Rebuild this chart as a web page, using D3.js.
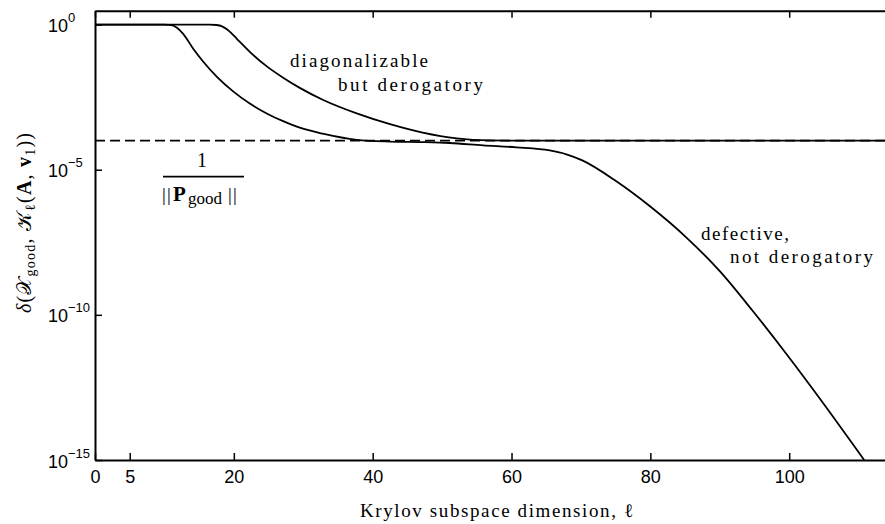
<!DOCTYPE html>
<html><head><meta charset="utf-8">
<script src="https://cdn.jsdelivr.net/npm/d3@7"></script>
<style>
body{margin:0;background:#fff}
text{fill:#000}
</style>
</head><body><svg id="c" width="885" height="524"></svg>
<script>
// ---- data ----
const xTicks = [0, 5, 20, 40, 60, 80, 100];
const yTicks = [1, 1e-5, 1e-10, 1e-15];
const yTickExp = ["0", "\u22125", "\u221210", "\u221215"];
const refLevel = 1e-4;

// "diagonalizable but derogatory"
const diagL = [0, 16.5, 17.5, 18.3, 19.0, 19.7, 20.4, 22.3, 24.8, 27.1, 29.5, 32.8, 37.7, 42.5, 47.2, 52.1, 56.9, 62, 114];
const diagV = [1, 1, 0.966, 0.87, 0.69, 0.49, 0.33, 0.115, 0.0355, 0.0148, 6.6e-3, 2.57e-3, 8.7e-4, 3.7e-4, 1.9e-4, 1.2e-4, 1.02e-4, 1.0e-4, 1.0e-4];

// "defective, not derogatory"
const defL = [0, 10.0, 11.0, 11.8, 12.7, 14.2, 15.6, 17.6, 19.9, 22.3, 24.8, 27.1, 29.5, 32.8, 37.7, 42.5, 47.2, 51.1, 55.9, 60.7, 65.5, 67.9, 70.2, 75.1, 79.9, 85.2, 90.0, 94.7, 99.6, 104.4, 109.1, 110.8];
const defV = [1, 1, 0.95, 0.78, 0.48, 0.141, 0.0525, 0.0155, 5.0e-3, 1.9e-3, 8.5e-4, 4.7e-4, 2.8e-4, 1.74e-4, 1.07e-4, 9.3e-5, 8.9e-5, 8.3e-5, 6.9e-5, 5.9e-5, 4.6e-5, 3.4e-5, 2.1e-5, 4.0e-6, 5.6e-7, 4.6e-8, 3.2e-9, 1.41e-10, 4.5e-12, 1.32e-13, 3.7e-15, 1e-15];

// ---- chart ----
const svg = d3.select("#c");
const x = d3.scaleLinear().domain([0, 113.8]).range([95, 885]);
const y = d3.scaleLog().domain([1e-15, 3]).range([460, 10.7]);
const SANS = "'Liberation Sans', Arial, Helvetica, sans-serif";
const SERIF = "'Liberation Serif', 'Times New Roman', serif";

// axes
const gB = svg.append("g").attr("transform", `translate(0,${y.range()[0]})`)
  .call(d3.axisBottom(x).tickValues(xTicks).tickSizeInner(-7).tickSizeOuter(0).tickPadding(10));
const gT = svg.append("g").attr("transform", `translate(0,${y.range()[1]})`)
  .call(d3.axisTop(x).tickValues(xTicks).tickSizeInner(-7).tickSizeOuter(0).tickFormat(""));
const gL = svg.append("g").attr("transform", `translate(${x.range()[0]},0)`)
  .call(d3.axisLeft(y).tickValues(yTicks).tickSizeInner(-7).tickSizeOuter(0).tickFormat(""));
[gB, gT, gL].forEach(g => {
  g.select(".domain").attr("stroke", "#000").attr("stroke-width", 2);
  g.selectAll(".tick line").attr("stroke", "#000").attr("stroke-width", 1.5);
});
gB.selectAll(".tick text").attr("font-family", SANS).attr("font-size", 18).attr("fill", "#000");

// y tick labels (10^n)
yTicks.forEach((t, i) => {
  const tx = svg.append("text").attr("x", 48).attr("y", y(t) + 7.5)
    .attr("font-family", SANS).attr("font-size", 18);
  tx.append("tspan").text("10");
  tx.append("tspan").attr("font-size", 13).attr("dy", -10).text(yTickExp[i]);
});

// reference dashed line
svg.append("line")
  .attr("x1", x(0)).attr("x2", x.range()[1])
  .attr("y1", y(refLevel)).attr("y2", y(refLevel))
  .attr("stroke", "#000").attr("stroke-width", 1.8).attr("stroke-dasharray", "10,5");

const line = d3.line().x(d => x(d[0])).y(d => y(d[1])).curve(d3.curveMonotoneX);
svg.append("path").datum(diagL.map((l, i) => [l, diagV[i]]))
  .attr("d", line).attr("fill", "none").attr("stroke", "#000").attr("stroke-width", 1.8);
svg.append("path").datum(defL.map((l, i) => [l, defV[i]]))
  .attr("d", line).attr("fill", "none").attr("stroke", "#000").attr("stroke-width", 1.8);

// annotations
function ann(txt, x0, yb, w) {
  svg.append("text").attr("x", x0).attr("y", yb).attr("font-family", SERIF).attr("font-size", 19)
    .attr("fill", "#000").attr("textLength", w).attr("lengthAdjust", "spacing").text(txt);
}
ann("diagonalizable", 290, 67, 138);
ann("but derogatory", 338, 91, 145);
ann("defective,", 701, 240, 88);
ann("not derogatory", 730, 263, 143);

// fraction 1/||P_good||
svg.append("text").attr("x", 202).attr("y", 167).attr("text-anchor", "middle")
  .attr("font-family", SERIF).attr("font-size", 20).attr("fill", "#000").text("1");
svg.append("line").attr("x1", 163).attr("x2", 244).attr("y1", 176.7).attr("y2", 176.7)
  .attr("stroke", "#000").attr("stroke-width", 1.8);
const den = svg.append("text").attr("y", 201)
  .attr("font-family", SERIF).attr("font-size", 20).attr("fill", "#000");
den.append("tspan").attr("x", 162).attr("font-size", 19).text("|");
den.append("tspan").attr("x", 167).attr("font-size", 19).text("|");
den.append("tspan").attr("x", 173).attr("font-size", 21).attr("font-weight", "bold").text("P");
den.append("tspan").attr("x", 188).attr("font-size", 17).attr("dy", 3).text("good");
den.append("tspan").attr("x", 228).attr("dy", -3).attr("font-size", 19).text("|");
den.append("tspan").attr("x", 233).attr("font-size", 19).text("|");

// x label
svg.append("text").attr("x", 360).attr("y", 517)
  .attr("font-family", SERIF).attr("font-size", 19).attr("fill", "#000")
  .attr("textLength", 273).attr("lengthAdjust", "spacing")
  .text("Krylov subspace dimension, \u2113");

// y label
const yl = svg.append("text").attr("transform", "translate(31,223) rotate(-90)")
  .attr("text-anchor", "middle").attr("font-family", SERIF).attr("font-size", 20)
  .attr("fill", "#000").attr("textLength", 180).attr("lengthAdjust", "spacing");
yl.append("tspan").attr("font-style", "italic").text("\u03B4");
yl.append("tspan").text("(");
yl.append("tspan").text("\uD835\uDCB3");
yl.append("tspan").attr("font-size", 14).attr("dy", 4).text("good");
yl.append("tspan").attr("dy", -4).text(", ");
yl.append("tspan").text("\uD835\uDCA6");
yl.append("tspan").attr("font-size", 14).attr("dy", 4).text("\u2113");
yl.append("tspan").attr("dy", -4).text("(");
yl.append("tspan").attr("font-weight", "bold").text("A");
yl.append("tspan").text(", ");
yl.append("tspan").attr("font-weight", "bold").text("v");
yl.append("tspan").attr("font-size", 14).attr("dy", 4).text("1");
yl.append("tspan").attr("dy", -4).text("))");
</script>
</body></html>
